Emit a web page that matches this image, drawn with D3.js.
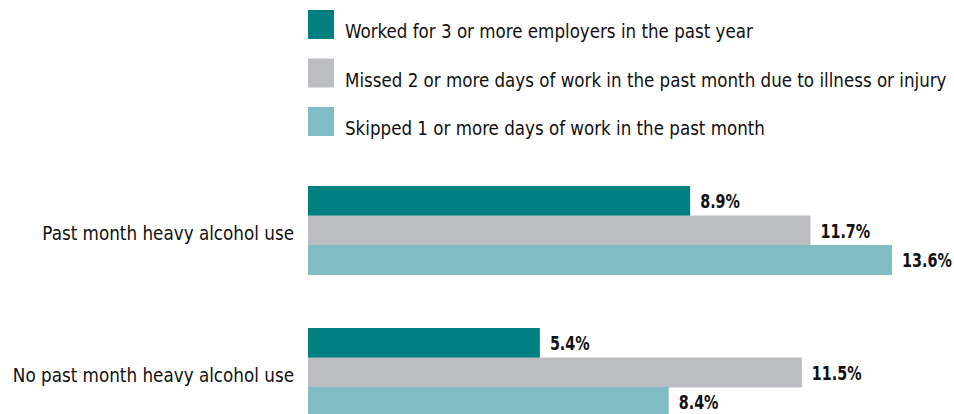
<!DOCTYPE html>
<html>
<head>
<meta charset="utf-8">
<title>Heavy alcohol use and work</title>
<script src="https://d3js.org/d3.v7.min.js"></script>
<style>
  body { margin: 0; background: #fff; }
  text { font-family: "Liberation Sans Narrow", "DejaVu Sans Condensed", "DejaVu Sans", sans-serif; fill: #111; }
</style>
</head>
<body>
<div id="chart"></div>
<script>
// data
var categories = ["Past month heavy alcohol use", "No past month heavy alcohol use"];
var series = [
  "Worked for 3 or more employers in the past year",
  "Missed 2 or more days of work in the past month due to illness or injury",
  "Skipped 1 or more days of work in the past month"
];
var employersValues = [8.9, 5.4];
var missedValues = [11.7, 11.5];
var skippedValues = [13.6, 8.4];
var colors = ["#007f80", "#bcbdc1", "#80bcc3"];

var allValues = [employersValues, missedValues, skippedValues];

var width = 954, height = 414;

var svg = d3.select("#chart").append("svg")
  .attr("width", width)
  .attr("height", height);

var x = d3.scaleLinear().domain([0, 13.6]).range([308, 892]);

var y0 = d3.scaleBand()
  .domain(categories)
  .range([186, 416.5])
  .paddingInner(0.377)
  .paddingOuter(0);

var y1 = d3.scaleBand()
  .domain(series)
  .range([0, y0.bandwidth()]);

var color = d3.scaleOrdinal().domain(series).range(colors);

// legend
var legend = svg.append("g").attr("class", "legend");
var leg = legend.selectAll("g")
  .data(series)
  .enter().append("g")
  .attr("transform", function(d, i) { return "translate(308," + (10 + i * 48.5) + ")"; });

leg.append("rect")
  .attr("width", 26)
  .attr("height", 29)
  .attr("fill", function(d) { return color(d); });

// condensed look: squeeze the text horizontally
leg.append("text")
  .attr("transform", "translate(37,28) scale(0.953,1)")
  .style("font-size", "19.5px")
  .text(function(d) { return d; });

// bars
var rows = [];
categories.forEach(function(c, ci) {
  series.forEach(function(s, si) {
    rows.push({ category: c, series: s, value: allValues[si][ci] });
  });
});

var groups = svg.append("g").attr("class", "bars");

groups.selectAll("rect")
  .data(rows)
  .enter().append("rect")
  .attr("x", x(0))
  .attr("y", function(d) { return y0(d.category) + y1(d.series); })
  .attr("width", function(d) { return x(d.value) - x(0); })
  .attr("height", y1.bandwidth() + 0.5)
  .attr("fill", function(d) { return color(d.series); });

groups.selectAll("text.value")
  .data(rows)
  .enter().append("text")
  .attr("class", "value")
  .attr("transform", function(d) {
    var ty = y0(d.category) + y1(d.series) + y1.bandwidth() / 2 + 7.5;
    return "translate(" + (x(d.value) + 10) + "," + ty + ") scale(0.84,1)";
  })
  .style("font-size", "19px")
  .style("font-weight", "bold")
  .text(function(d) { return d.value.toFixed(1) + "%"; });

// category labels
svg.append("g").selectAll("text")
  .data(categories)
  .enter().append("text")
  .attr("transform", function(d) {
    return "translate(294," + (y0(d) + y0.bandwidth() / 2 + 10) + ") scale(0.958,1)";
  })
  .attr("text-anchor", "end")
  .style("font-size", "19.5px")
  .text(function(d) { return d; });
</script>
</body>
</html>
